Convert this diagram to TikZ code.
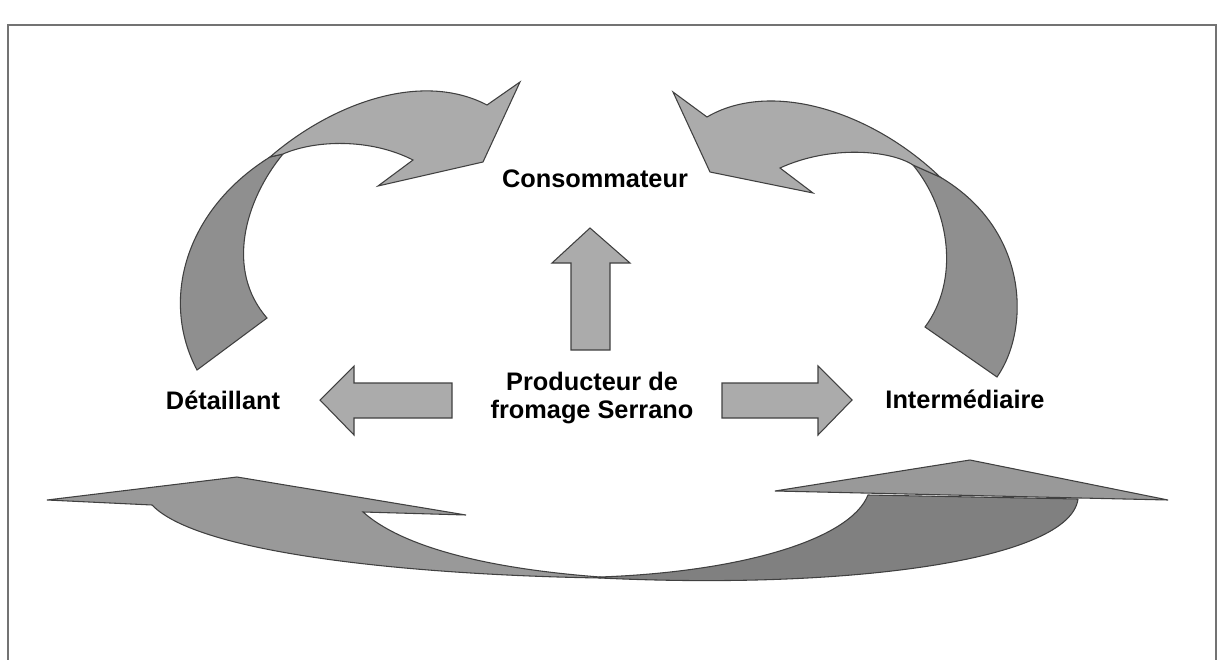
\documentclass[tikz,border=0pt]{standalone}
\usepackage{fontspec}
\setmainfont{Liberation Sans}
\begin{document}
\begin{tikzpicture}[x=0.75pt,y=-0.75pt,
  shp/.style={draw=black!75, line width=0.8pt, line join=miter},
  lightg/.style={shp, fill=black!33},
  darkg/.style={shp, fill=black!44},
  midg/.style={shp, fill=black!40},
  deepg/.style={shp, fill=black!50},
  lbl/.style={font=\fontsize{19}{20.5}\selectfont\bfseries, inner sep=0pt, anchor=base, align=center}]
\useasboundingbox (0,0) rectangle (1218,660);
% frame
\draw[black!55, line width=1.5pt] (8,662) -- (8,25) -- (1216,25) -- (1216,662);

% labels
\node[lbl] (cons) at (595,187) {Consommateur};
\node[lbl] (prod) at (592,418) {Producteur de\\fromage Serrano};
\node[lbl] (det) at (223,409) {Détaillant};
\node[lbl] (inter) at (965,408) {Intermédiaire};

% straight block arrows
\draw[lightg] (590,228) -- (630,263) -- (610,263) -- (610,350) -- (571,350) -- (571,263) -- (552,263) -- cycle;
\draw[lightg] (320,400) -- (354,366) -- (354,383) -- (452,383) -- (452,418) -- (354,418) -- (354,435) -- cycle;
\draw[lightg] (852,400) -- (818,366) -- (818,383) -- (722,383) -- (722,418) -- (818,418) -- (818,435) -- cycle;

% top-left curved arrow: back (dark) part
\draw[darkg] (197,370) .. controls (160,300) and (185,210) .. (270,157)
  -- (283,154) .. controls (245,200) and (225,270) .. (267,318) -- cycle;
% top-left curved arrow: front (light) part
\draw[lightg] (270,157) .. controls (330,105) and (420,70) .. (487,105)
  -- (520,82) -- (483,162) -- (378,186) -- (413,160)
  .. controls (370,138) and (315,140) .. (283,154) -- cycle;

% top-right curved arrow: back (dark) part
\draw[darkg] (997,377) .. controls (1030,330) and (1030,230) .. (940,177)
  -- (913,165) .. controls (950,210) and (960,280) .. (925,327) -- cycle;
% top-right curved arrow: front (light) part
\draw[lightg] (940,177) .. controls (870,110) and (770,80) .. (707,117)
  -- (673,92) -- (710,172) -- (813,193) -- (780,168)
  .. controls (830,145) and (890,150) .. (913,165) -- cycle;

% bottom-left curved arrow
\draw[midg] (600,578) .. controls (420,575) and (200,555) .. (152,505)
  -- (47,500) -- (237,477) -- (466,515) -- (363,512)
  .. controls (400,545) and (480,568) .. (600,577) -- cycle;

% bottom-right curved arrow: body
\draw[deepg] (600,577) .. controls (740,572) and (850,540) .. (868,495)
  -- (1078,499) .. controls (1070,560) and (850,590) .. (600,578) -- cycle;
% bottom-right curved arrow: head
\draw[midg] (775,491) -- (970,460) -- (1168,500) -- cycle;
\end{tikzpicture}
\end{document}
